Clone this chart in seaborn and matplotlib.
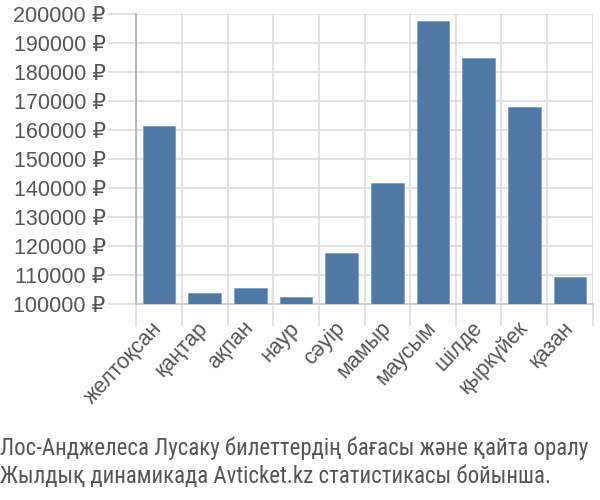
import matplotlib
matplotlib.use("Agg")
import matplotlib.pyplot as plt
import seaborn as sns
import pandas as pd
from matplotlib.ticker import FuncFormatter, FixedLocator

months = ["желтоқсан", "қаңтар", "ақпан", "наур", "сәуір", "мамыр",
          "маусым", "шілде", "қыркүйек", "қазан"]
prices = [161500, 103700, 105500, 102500, 117500, 141800,
          197600, 184800, 167900, 109300]
yticks = [100000, 110000, 120000, 130000, 140000, 150000,
          160000, 170000, 180000, 190000, 200000]
caption = ["Лос-Анджелеса Лусаку билеттердің бағасы және қайта оралу",
           "Жылдық динамикада Avticket.kz статистикасы бойынша."]

sns.set_style("white")
plt.rcParams['font.family'] = ['Liberation Sans', 'DejaVu Sans']

df = pd.DataFrame({"month": months, "price": prices})

fig = plt.figure(figsize=(6, 5), dpi=100)
ax = fig.add_axes([0.227, 0.392, 0.761, 0.58])

grid_c = "#dddddd"
text_c = "#555555"

sns.barplot(data=df, x="month", y="price", color="#4e79a7", saturation=1,
            width=0.72, ax=ax, edgecolor="#7f9fc4", linewidth=0.6, zorder=3)

ax.set_ylim(100000, 200000)
ax.set_xlim(-0.5, len(months) - 0.5)
ax.set_yticks(yticks)
ax.yaxis.set_major_formatter(FuncFormatter(lambda v, p: f"{int(v)} ₽"))
ax.set_xticks(range(len(months)))
ax.set_xticklabels(months, rotation=47, ha="right", va="center", rotation_mode="anchor")

# grid lines at category boundaries
ax.xaxis.set_minor_locator(FixedLocator([i - 0.5 for i in range(len(months) + 1)]))
ax.grid(True, axis="y", color=grid_c, linewidth=1.2, zorder=0)
ax.grid(True, axis="x", which="minor", color=grid_c, linewidth=1.2, zorder=0)
ax.tick_params(axis="x", which="major", bottom=False, length=0, pad=15, labelsize=15.5, labelcolor=text_c)
ax.tick_params(axis="x", which="minor", bottom=True, length=16, color=grid_c, width=1.2)
ax.tick_params(axis="y", left=True, length=20, color=grid_c, width=1.2, pad=2, labelsize=15.5, labelcolor=text_c)

ax.set_xlabel("")
ax.set_ylabel("")
for s in ["top", "right"]:
    ax.spines[s].set_visible(False)
ax.spines["left"].set_color("#aaaaaa")
ax.spines["bottom"].set_color("#cccccc")
ax.spines["left"].set_linewidth(1.2)
ax.spines["bottom"].set_linewidth(1.2)
ax.set_axisbelow(True)

fig.text(0.0, 0.034, caption[1], fontsize=16.5, color=text_c,
         family=['Roboto Condensed', 'DejaVu Sans'], ha="left", va="baseline")
fig.text(0.0, 0.09, caption[0], fontsize=16.5, color=text_c,
         family=['Roboto Condensed', 'DejaVu Sans'], ha="left", va="baseline")

fig.savefig("out.png", dpi=100)
